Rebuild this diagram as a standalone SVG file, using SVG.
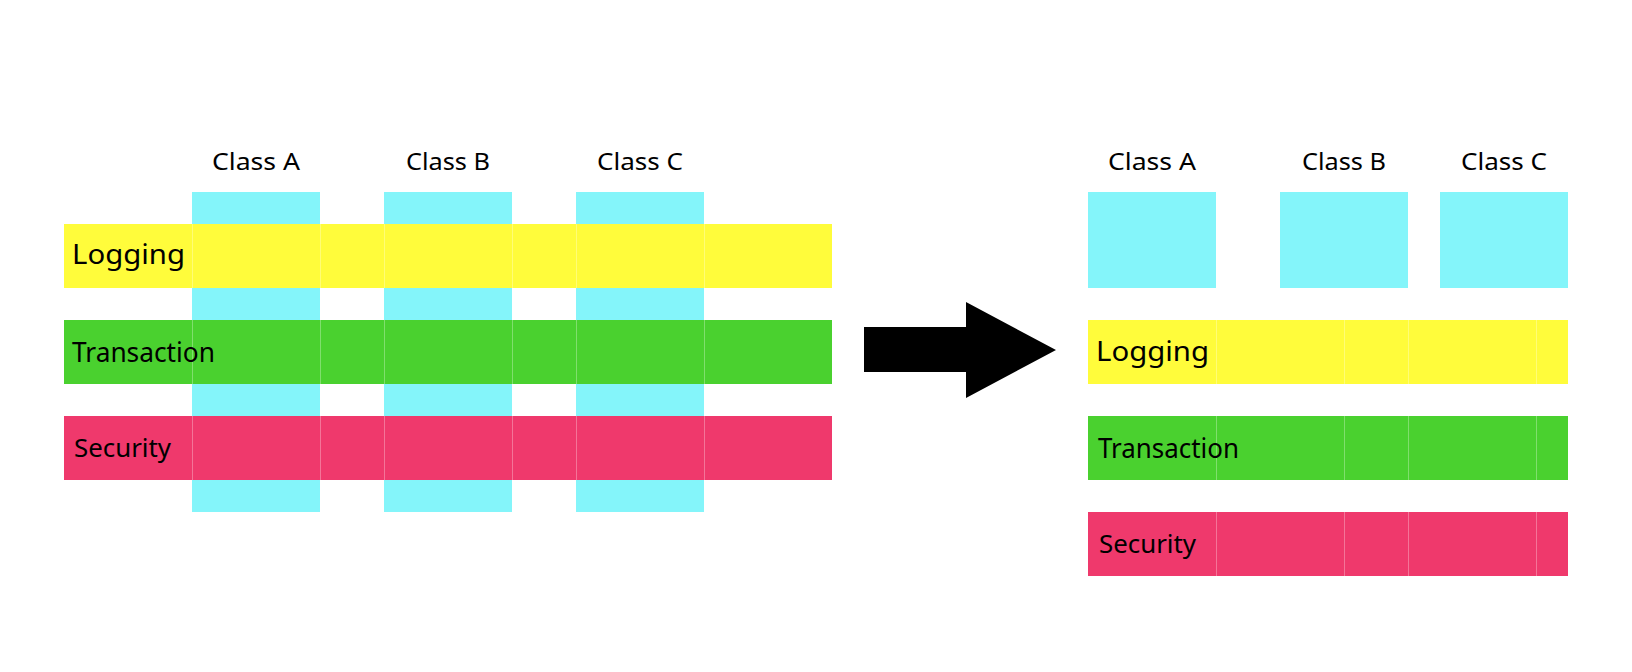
<svg xmlns="http://www.w3.org/2000/svg" width="1632" height="672" viewBox="0 0 1632 672">
<style>
.cls{fill:#84F5FA}
.log{fill:#FFFC3B}
.tx{fill:#4AD12F}
.sec{fill:#EF396C}
.seam{stroke:#ffffff;stroke-opacity:0.3;stroke-width:1}
text{font-family:"Noto Sans","DejaVu Sans",sans-serif;fill:#000}
.h{font-size:24px;text-anchor:middle}
.lab{font-size:28px}
.lab2{font-size:27px}
.lab3{font-size:25px}
</style>
<rect width="1632" height="672" fill="#ffffff"/>

<!-- Left diagram -->
<g id="left-classA"><rect class="cls" x="192" y="192" width="128" height="320"/><text class="h" x="256" y="170" textLength="88" lengthAdjust="spacingAndGlyphs">Class A</text></g>
<g id="left-classB"><rect class="cls" x="384" y="192" width="128" height="320"/><text class="h" x="448" y="170" textLength="84" lengthAdjust="spacingAndGlyphs">Class B</text></g>
<g id="left-classC"><rect class="cls" x="576" y="192" width="128" height="320"/><text class="h" x="640" y="170" textLength="86" lengthAdjust="spacingAndGlyphs">Class C</text></g>

<g id="left-logging"><rect class="log" x="64" y="224" width="768" height="64"/>
<path class="seam" d="M192.5 224V288M320.5 224V288M384.5 224V288M512.5 224V288M576.5 224V288M704.5 224V288"/>
<text class="lab" x="72" y="264" textLength="113" lengthAdjust="spacingAndGlyphs">Logging</text></g>
<g id="left-transaction"><rect class="tx" x="64" y="320" width="768" height="64"/>
<path class="seam" d="M192.5 320V384M320.5 320V384M384.5 320V384M512.5 320V384M576.5 320V384M704.5 320V384"/>
<text class="lab2" x="72" y="362" textLength="143" lengthAdjust="spacingAndGlyphs">Transaction</text></g>
<g id="left-security"><rect class="sec" x="64" y="416" width="768" height="64"/>
<path class="seam" d="M192.5 416V480M320.5 416V480M384.5 416V480M512.5 416V480M576.5 416V480M704.5 416V480"/>
<text class="lab3" x="74" y="457" textLength="97" lengthAdjust="spacingAndGlyphs">Security</text></g>

<!-- Arrow -->
<g id="connectors">
<polygon points="864,327 966,327 966,302 1056,350 966,398 966,372 864,372" fill="#000"/>
</g>

<!-- Right diagram -->
<g id="right-classA"><rect class="cls" x="1088" y="192" width="128" height="96"/><text class="h" x="1152" y="170" textLength="88" lengthAdjust="spacingAndGlyphs">Class A</text></g>
<g id="right-classB"><rect class="cls" x="1280" y="192" width="128" height="96"/><text class="h" x="1344" y="170" textLength="84" lengthAdjust="spacingAndGlyphs">Class B</text></g>
<g id="right-classC"><rect class="cls" x="1440" y="192" width="128" height="96"/><text class="h" x="1504" y="170" textLength="86" lengthAdjust="spacingAndGlyphs">Class C</text></g>

<g id="right-logging"><rect class="log" x="1088" y="320" width="480" height="64"/>
<path class="seam" d="M1216.5 320V384M1344.5 320V384M1408.5 320V384M1536.5 320V384"/>
<text class="lab" x="1096" y="361" textLength="113" lengthAdjust="spacingAndGlyphs">Logging</text></g>
<g id="right-transaction"><rect class="tx" x="1088" y="416" width="480" height="64"/>
<path class="seam" d="M1216.5 416V480M1344.5 416V480M1408.5 416V480M1536.5 416V480"/>
<text class="lab2" x="1098" y="458" textLength="141" lengthAdjust="spacingAndGlyphs">Transaction</text></g>
<g id="right-security"><rect class="sec" x="1088" y="512" width="480" height="64"/>
<path class="seam" d="M1216.5 512V576M1344.5 512V576M1408.5 512V576M1536.5 512V576"/>
<text class="lab3" x="1099" y="553" textLength="97" lengthAdjust="spacingAndGlyphs">Security</text></g>
</svg>
